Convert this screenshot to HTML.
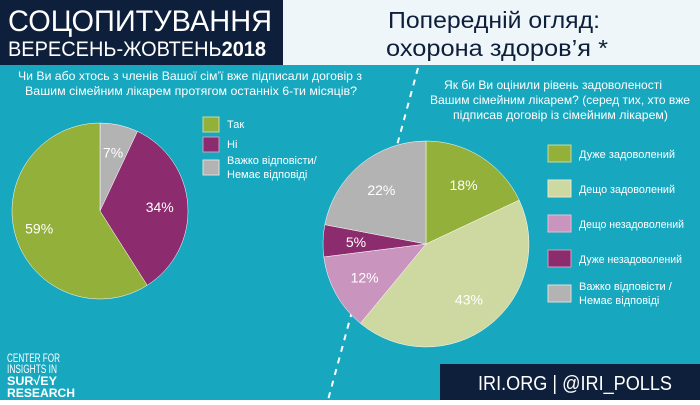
<!DOCTYPE html>
<html><head><meta charset="utf-8"><style>
body{margin:0;width:700px;height:400px;overflow:hidden;font-family:"Liberation Sans","DejaVu Sans",sans-serif;}
</style></head><body>
<svg id="s" width="700" height="400" xmlns="http://www.w3.org/2000/svg" font-family="Liberation Sans, DejaVu Sans, sans-serif">
<rect width="700" height="400" fill="#17a7bf"/>
<rect x="0" y="0" width="283" height="65" fill="#0e1f3b"/>
<rect x="283" y="0" width="417" height="65" fill="#eef6f9"/>
<text x="8" y="31" fill="#fff" font-size="30" textLength="264" lengthAdjust="spacingAndGlyphs">СОЦОПИТУВАННЯ</text>
<text x="8" y="56" fill="#fff" font-size="21" textLength="258" lengthAdjust="spacingAndGlyphs">ВЕРЕСЕНЬ-ЖОВТЕНЬ<tspan font-weight="bold">2018</tspan></text>
<text x="388" y="28" fill="#0e1f3b" font-size="23" textLength="212" lengthAdjust="spacingAndGlyphs">Попередній огляд:</text>
<text x="386" y="56" fill="#0e1f3b" font-size="23" textLength="222" lengthAdjust="spacingAndGlyphs">охорона здоров’я *</text>
<g fill="#fff" font-size="12">
<text x="18" y="80" textLength="344" lengthAdjust="spacingAndGlyphs">Чи Ви або хтось з членів Вашої сім’ї вже підписали договір з</text>
<text x="25" y="95" textLength="332" lengthAdjust="spacingAndGlyphs">Вашим сімейним лікарем протягом останніх 6-ти місяців?</text>
<text x="444" y="89" textLength="218" lengthAdjust="spacingAndGlyphs">Як би Ви оцінили рівень задоволеності</text>
<text x="430" y="104" textLength="260" lengthAdjust="spacingAndGlyphs">Вашим сімейним лікарем? (серед тих, хто вже</text>
<text x="453" y="119" textLength="215" lengthAdjust="spacingAndGlyphs">підписав договір із сімейним лікарем)</text>
</g>
<line x1="418" y1="68" x2="328" y2="400" stroke="#fff" stroke-width="2" stroke-dasharray="6,6"/>
<g id="p1"></g><g id="p2"></g>
<g font-size="11" fill="#fff">
<rect x="203" y="117" width="16" height="15" fill="#93b03a" stroke="#c9d9a0"/><text x="227" y="128">Так</text>
<rect x="203" y="137" width="16" height="15" fill="#8c2c6e" stroke="#c9a0c0"/><text x="227" y="148">Ні</text>
<rect x="203" y="160" width="16" height="15" fill="#b3b3b3" stroke="#ddd"/><text x="227" y="164">Важко відповісти/</text><text x="227" y="178">Немає відповіді</text>
<rect x="548" y="145" width="23" height="17" fill="#93b03a" stroke="#c9d9a0"/><text x="579" y="158" textLength="96" lengthAdjust="spacingAndGlyphs">Дуже задоволений</text>
<rect x="548" y="180" width="23" height="17" fill="#cdd9a0" stroke="#e3eac8"/><text x="579" y="193" textLength="96" lengthAdjust="spacingAndGlyphs">Дещо задоволений</text>
<rect x="548" y="215" width="23" height="17" fill="#c994bd" stroke="#e0c0d8"/><text x="579" y="228" textLength="105" lengthAdjust="spacingAndGlyphs">Дещо незадоволений</text>
<rect x="548" y="250" width="23" height="17" fill="#8c2c6e" stroke="#c9a0c0"/><text x="579" y="263" textLength="103" lengthAdjust="spacingAndGlyphs">Дуже незадоволений</text>
<rect x="548" y="285" width="23" height="17" fill="#b3b3b3" stroke="#ddd"/><text x="579" y="290">Важко відповісти /</text><text x="579" y="304">Немає відповіді</text>
</g>
<g fill="#fff" font-size="12">
<text x="7" y="362" textLength="53" lengthAdjust="spacingAndGlyphs">CENTER FOR</text><text x="7" y="373" textLength="50" lengthAdjust="spacingAndGlyphs">INSIGHTS IN</text>
<text x="7" y="385" font-weight="bold" textLength="50" lengthAdjust="spacingAndGlyphs">SUR√EY</text><text x="7" y="397" font-weight="bold" textLength="68" lengthAdjust="spacingAndGlyphs">RESEARCH</text>
</g>
<rect x="440" y="364" width="260" height="36" fill="#0e1f3b"/>
<text x="478" y="390" fill="#fff" font-size="20" textLength="194" lengthAdjust="spacingAndGlyphs">IRI.ORG | @IRI_POLLS</text>
</svg>
<script>
function pie(id,cx,cy,r,data){
 var g=document.getElementById(id),a=0,h='';
 data.forEach(function(d){
  var a0=a*Math.PI/50,a1=(a+d[0])*Math.PI/50;
  var x0=cx+r*Math.sin(a0),y0=cy-r*Math.cos(a0),x1=cx+r*Math.sin(a1),y1=cy-r*Math.cos(a1);
  h+='<path d="M'+cx+','+cy+'L'+x0+','+y0+'A'+r+','+r+' 0 '+(d[0]>50?1:0)+' 1 '+x1+','+y1+'Z" fill="'+d[1]+'" stroke="#fff" stroke-width="0.5"/>';
  var m=(a+d[0]/2)*Math.PI/50,lr=r*(d[3]||0.68);
  h+='<text x="'+(cx+lr*Math.sin(m))+'" y="'+(cy-lr*Math.cos(m)+5)+'" fill="#fff" font-size="14" text-anchor="middle" font-family="Liberation Sans, sans-serif">'+d[2]+'</text>';
  a+=d[0];
 });
 g.innerHTML=h;
}
pie('p1',100,211,88,[[7,'#b3b3b3','7%'],[34,'#8c2c6e','34%'],[59,'#93b03a','59%',0.72]]);
pie('p2',426,244,103,[[18,'#93b03a','18%'],[43,'#cdd9a0','43%'],[12,'#c994bd','12%'],[5,'#8c2c6e','5%'],[22,'#b3b3b3','22%']]);
</script>
</body></html>
